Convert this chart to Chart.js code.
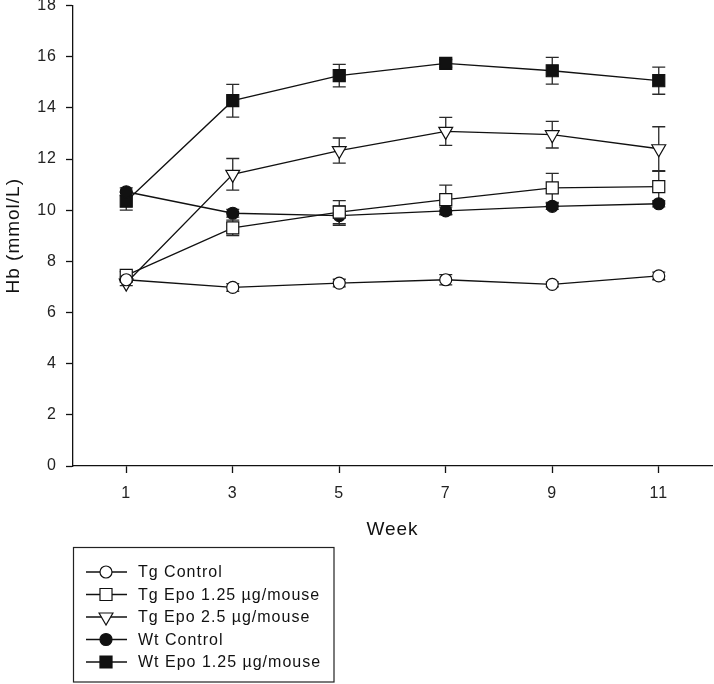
<!DOCTYPE html>
<html>
<head>
<meta charset="utf-8">
<script src="https://cdn.jsdelivr.net/npm/chart.js@4.4.0/dist/chart.umd.min.js"></script>
<style>
  html, body { margin: 0; padding: 0; background: #fff; }
  #wrap { width: 714px; height: 684px; }
</style>
</head>
<body>
<div id="wrap"><canvas id="hbChart" width="714" height="684"></canvas></div>
<script>
// weeks on the x axis
const weeks = [1, 3, 5, 7, 9, 11];

// mean Hb (mmol/L) per group
const tgControl = [7.28, 6.98, 7.15, 7.28, 7.10, 7.43];
const tgEpo125 = [7.45, 9.31, 9.92, 10.41, 10.87, 10.92];
const tgEpo25 = [7.15, 11.40, 12.33, 13.08, 12.95, 12.40];
const wtControl = [10.72, 9.88, 9.79, 9.97, 10.15, 10.25];
const wtEpo125 = [10.35, 14.28, 15.26, 15.74, 15.45, 15.06];

// error (+/-) per group
const tgControlErr = [0.10, 0.15, 0.15, 0.20, 0.10, 0.15];
const tgEpo125Err = [0.15, 0.30, 0.45, 0.57, 0.57, 0.60];
const tgEpo25Err = [0.10, 0.62, 0.49, 0.55, 0.52, 0.86];
const wtControlErr = [0.15, 0.15, 0.38, 0.15, 0.12, 0.12];
const wtEpo125Err = [0.35, 0.64, 0.44, 0.15, 0.52, 0.53];

const yTicks = [0, 2, 4, 6, 8, 10, 12, 14, 16, 18];

const FONT = '"Liberation Sans", Arial, sans-serif';

function toPoints(vals) {
  return weeks.map((w, i) => ({ x: w, y: vals[i] }));
}

function series(label, vals, errs, style, fill, radius, rotation) {
  return {
    label: label,
    data: toPoints(vals),
    errors: errs,
    borderColor: '#111',
    borderWidth: 1.3,
    pointStyle: style,
    pointRadius: radius,
    pointHoverRadius: radius,
    pointRotation: rotation || 0,
    pointBackgroundColor: fill,
    pointBorderColor: '#111',
    pointBorderWidth: 1.2,
    tension: 0,
    fill: false
  };
}

// error bars, drawn under the markers
const errorBars = {
  id: 'errorBars',
  beforeDatasetsDraw(chart) {
    const ctx = chart.ctx;
    const xs = chart.scales.x, ys = chart.scales.y;
    ctx.save();
    ctx.strokeStyle = '#2a2a2a';
    ctx.lineWidth = 1.3;
    chart.data.datasets.forEach(ds => {
      ds.data.forEach((p, i) => {
        const e = ds.errors[i];
        const px = xs.getPixelForValue(p.x);
        const top = ys.getPixelForValue(p.y + e);
        const bot = ys.getPixelForValue(p.y - e);
        ctx.beginPath();
        ctx.moveTo(px, top); ctx.lineTo(px, bot);
        ctx.moveTo(px - 6.5, top); ctx.lineTo(px + 6.5, top);
        ctx.moveTo(px - 6.5, bot); ctx.lineTo(px + 6.5, bot);
        ctx.stroke();
      });
    });
    ctx.restore();
  }
};

// boxed legend under the x axis, line + marker samples
const boxLegend = {
  id: 'boxLegend',
  afterDraw(chart) {
    const ctx = chart.ctx;
    ctx.save();
    ctx.strokeStyle = '#222';
    ctx.lineWidth = 1.2;
    ctx.strokeRect(73.5, 547.5, 260.5, 134.5);
    ctx.font = '16px ' + FONT;
    ctx.letterSpacing = '1px';
    ctx.textBaseline = 'middle';
    chart.data.datasets.forEach((ds, i) => {
      const y = 572 + i * 22.5;
      ctx.beginPath();
      ctx.strokeStyle = '#111';
      ctx.lineWidth = 1.3;
      ctx.moveTo(86, y); ctx.lineTo(127, y);
      ctx.stroke();
      ctx.fillStyle = ds.pointBackgroundColor;
      ctx.strokeStyle = '#111';
      ctx.lineWidth = 1.2;
      Chart.helpers.drawPoint(ctx, {
        pointStyle: ds.pointStyle,
        radius: ds.pointRadius,
        rotation: ds.pointRotation,
        borderWidth: 1.2
      }, 106, y);
      ctx.fillStyle = '#111';
      ctx.fillText(ds.label, 138, y + 1);
    });
    ctx.restore();
  }
};

const spacing = {
  id: 'spacing',
  beforeDraw(chart) { chart.ctx.letterSpacing = '1px'; }
};

new Chart(document.getElementById('hbChart'), {
  type: 'line',
  data: {
    datasets: [
      series('Tg Control', tgControl, tgControlErr, 'circle', '#fff', 6),
      series('Tg Epo 1.25 µg/mouse', tgEpo125, tgEpo125Err, 'rect', '#fff', 8.5),
      series('Tg Epo 2.5 µg/mouse', tgEpo25, tgEpo25Err, 'triangle', '#fff', 8, 180),
      series('Wt Control', wtControl, wtControlErr, 'circle', '#111', 6),
      series('Wt Epo 1.25 µg/mouse', wtEpo125, wtEpo125Err, 'rect', '#111', 8.5)
    ]
  },
  options: {
    responsive: false,
    animation: false,
    layout: { autoPadding: false, padding: { top: 5.5, right: 2, bottom: 140, left: 0 } },
    plugins: { legend: { display: false }, tooltip: { enabled: false } },
    elements: { line: { clip: false } },
    scales: {
      x: {
        type: 'linear',
        min: 0,
        max: 12,
        afterBuildTicks(scale) { scale.ticks = weeks.map(v => ({ value: v })); },
        afterFit(scale) {
          scale.height = 684 - 140 - 466;
          scale.paddingLeft = 0;
          scale.paddingRight = 0;
        },
        border: { display: true, color: '#111', width: 1.3 },
        grid: { drawOnChartArea: false, drawTicks: true, tickLength: 7, tickColor: '#111', tickWidth: 1.3 },
        ticks: { color: '#222', font: { size: 16, family: FONT }, padding: 11, maxRotation: 0 },
        title: { display: true, text: 'Week', color: '#111', font: { size: 19, family: FONT }, padding: { top: 0, bottom: 3 } }
      },
      y: {
        min: 0,
        max: 18,
        afterBuildTicks(scale) { scale.ticks = yTicks.map(v => ({ value: v })); },
        afterFit(scale) {
          scale.width = 73;
          scale.paddingTop = 0;
          scale.paddingBottom = 0;
        },
        border: { display: true, color: '#111', width: 1.3 },
        grid: { drawOnChartArea: false, drawTicks: true, tickLength: 7, tickColor: '#111', tickWidth: 1.3 },
        ticks: { color: '#222', font: { size: 16, family: FONT }, padding: 9 },
        title: { display: true, text: 'Hb (mmol/L)', color: '#111', font: { size: 19, family: FONT }, padding: { top: 2, bottom: 0 } }
      }
    }
  },
  plugins: [spacing, errorBars, boxLegend]
});
</script>
</body>
</html>
